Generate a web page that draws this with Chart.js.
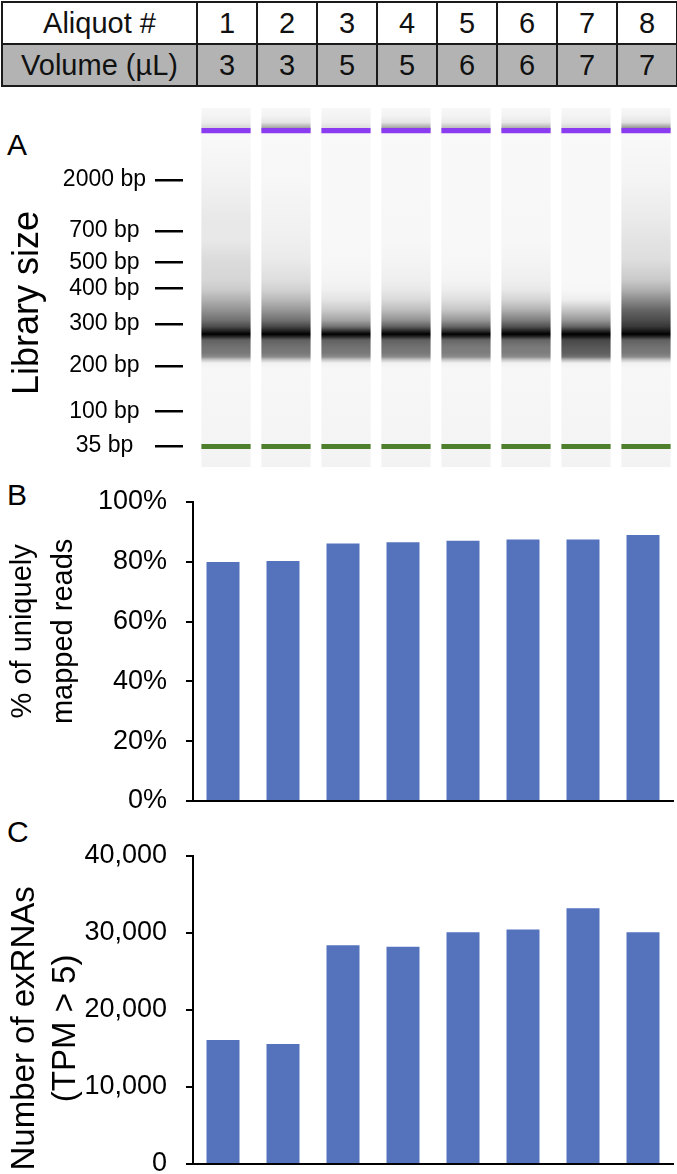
<!DOCTYPE html>
<html>
<head>
<meta charset="utf-8">
<script src="https://cdn.jsdelivr.net/npm/chart.js@4/dist/chart.umd.min.js"></script>
<style>
html,body{margin:0;padding:0;background:#fff;}
body{width:677px;height:1174px;position:relative;overflow:hidden;font-family:"Liberation Sans",Arial,Helvetica,sans-serif;color:#111;}
#tbl{position:absolute;left:1px;top:1px;width:675px;border-collapse:collapse;table-layout:fixed;}
#tbl td{border:2px solid #1a1a1a;text-align:center;vertical-align:middle;font-size:29px;padding:0;height:40px;line-height:40px;}
#tbl tr.vol td{background:#b3b3b3;}
.letter{position:absolute;left:7px;font-size:30px;line-height:30px;color:#000;}
canvas{position:absolute;left:0;}
</style>
</head>
<body>
<table id="tbl"><colgroup><col style="width:195px"><col span="8" style="width:60px"></colgroup></table>
<div class="letter" style="top:130px">A</div>
<div class="letter" style="top:480px">B</div>
<div class="letter" style="top:817px">C</div>
<canvas id="gel" width="677" height="405" style="top:95px"></canvas>
<canvas id="chartB" width="677" height="335" style="top:480px"></canvas>
<canvas id="chartC" width="677" height="359" style="top:815px"></canvas>
<script>
// ---------- data ----------
const aliquots = [1, 2, 3, 4, 5, 6, 7, 8];
const volumesUL = [3, 3, 5, 5, 6, 6, 7, 7];

// gel ladder (migration position, 0 = bottom of lane, 100 = top of lane)
const ladderLabels = ['35 bp', '100 bp', '200 bp', '300 bp', '400 bp', '500 bp', '700 bp', '2000 bp'];
const ladderPos = [5.9, 15.4, 28.1, 39.8, 49.7, 56.9, 65.8, 79.9];
const upperMarker = [93.0, 94.4];
const lowerMarker = [5.0, 6.4];

// gel intensity profile positions and per-lane darkness (0 = clear, 1 = black)
const gelPos = [0, 4.9, 27.5, 28.9, 29.8, 30.7, 31.7, 33.5, 35.4, 36.3, 37.0, 37.7, 39.1, 40.9, 43.7, 46.5, 49.3, 52.1, 57.7, 63.2, 68.8, 74.4, 80, 88, 92.9, 94.5, 96, 98, 100];
const lane1 = [0.04, 0.03, 0.02, 0.04, 0.2, 0.45, 0.52, 0.55, 0.62, 0.85, 1.0, 0.9, 0.7, 0.55, 0.42, 0.3, 0.2, 0.15, 0.13, 0.08, 0.08, 0.06, 0.04, 0.02, 0.01, 0.15, 0.06, 0.03, 0.02];
const lane2 = [0.04, 0.03, 0.02, 0.04, 0.2, 0.45, 0.52, 0.55, 0.62, 0.85, 1.0, 0.9, 0.72, 0.55, 0.4, 0.27, 0.17, 0.12, 0.07, 0.05, 0.04, 0.03, 0.02, 0.015, 0.01, 0.35, 0.09, 0.03, 0.02];
const lane3 = [0.04, 0.03, 0.02, 0.04, 0.2, 0.45, 0.52, 0.55, 0.62, 0.85, 1.0, 0.85, 0.55, 0.35, 0.2, 0.1, 0.05, 0.03, 0.02, 0.015, 0.015, 0.015, 0.015, 0.015, 0.01, 0.12, 0.05, 0.03, 0.02];
const lane4 = [0.04, 0.03, 0.02, 0.04, 0.2, 0.45, 0.52, 0.55, 0.62, 0.85, 1.0, 0.88, 0.62, 0.42, 0.25, 0.14, 0.08, 0.05, 0.03, 0.02, 0.02, 0.015, 0.015, 0.015, 0.01, 0.35, 0.09, 0.03, 0.02];
const lane5 = [0.04, 0.03, 0.02, 0.04, 0.2, 0.45, 0.5, 0.52, 0.6, 0.85, 1.0, 0.85, 0.6, 0.4, 0.22, 0.12, 0.06, 0.03, 0.02, 0.015, 0.015, 0.015, 0.015, 0.015, 0.01, 0.25, 0.07, 0.03, 0.02];
const lane6 = [0.04, 0.03, 0.02, 0.04, 0.2, 0.45, 0.5, 0.52, 0.6, 0.85, 1.0, 0.9, 0.68, 0.5, 0.3, 0.16, 0.08, 0.05, 0.03, 0.02, 0.02, 0.015, 0.015, 0.015, 0.01, 0.3, 0.08, 0.03, 0.02];
const lane7 = [0.04, 0.03, 0.02, 0.04, 0.25, 0.55, 0.62, 0.66, 0.72, 0.9, 1.0, 0.88, 0.6, 0.4, 0.22, 0.06, 0.02, 0.015, 0.015, 0.015, 0.015, 0.015, 0.015, 0.015, 0.01, 0.15, 0.06, 0.03, 0.02];
const lane8 = [0.04, 0.03, 0.02, 0.04, 0.2, 0.45, 0.52, 0.55, 0.62, 0.85, 1.0, 0.92, 0.78, 0.7, 0.6, 0.45, 0.3, 0.2, 0.12, 0.1, 0.07, 0.05, 0.03, 0.02, 0.01, 0.4, 0.1, 0.04, 0.02];

// panel B: % of uniquely mapped reads
const uniqueMappedPct = [79.9, 80.3, 86.1, 86.5, 87.0, 87.5, 87.5, 89.0];
const pctTicks = [0, 20, 40, 60, 80, 100];

// panel C: number of exRNAs (TPM > 5)
const exRNACount = [16100, 15600, 28400, 28200, 30100, 30450, 33200, 30100];
const countTicks = [0, 10000, 20000, 30000, 40000];

// ---------- table ----------
const tbl = document.getElementById('tbl');
const r1 = tbl.insertRow();
r1.insertCell().textContent = 'Aliquot #';
aliquots.forEach(a => { r1.insertCell().textContent = a; });
const r2 = tbl.insertRow();
r2.className = 'vol';
r2.insertCell().textContent = 'Volume (\u00B5L)';
volumesUL.forEach(v => { r2.insertCell().textContent = v; });

// ---------- charts ----------
const FAMILY = "'Liberation Sans', Arial, Helvetica, sans-serif";
Chart.defaults.font.family = FAMILY;
Chart.defaults.color = '#000';
const BAR_COLOR = 'rgb(85,114,189)';
const lanes = [lane1, lane2, lane3, lane4, lane5, lane6, lane7, lane8];

function laneGradient(ctx) {
  const chart = ctx.chart;
  if (!chart.chartArea || ctx.type !== 'data') return '#f7f7f7';
  const y = chart.scales.y;
  const g = chart.ctx.createLinearGradient(0, y.getPixelForValue(0), 0, y.getPixelForValue(100));
  const prof = lanes[ctx.dataIndex];
  gelPos.forEach((p, k) => {
    const c = Math.round(252 * (1 - prof[k]));
    g.addColorStop(p / 100, 'rgb(' + c + ',' + c + ',' + c + ')');
  });
  return g;
}
function noLabelOverhang(s) { s.paddingTop = 0; s.paddingBottom = 0; s.paddingLeft = 0; s.paddingRight = 0; }

const laneOpts = { grouped: false, barPercentage: 0.82, categoryPercentage: 1, borderWidth: 0 };

new Chart(document.getElementById('gel'), {
  type: 'bar',
  data: {
    datasets: [
      Object.assign({ label: 'Lanes', data: aliquots.map(a => ({ x: a, y: [0, 100] })), backgroundColor: laneGradient, order: 3 }, laneOpts),
      Object.assign({ label: 'Upper marker', data: aliquots.map(a => ({ x: a, y: upperMarker })), backgroundColor: '#8b3cf0', order: 1 }, laneOpts),
      Object.assign({ label: 'Lower marker', data: aliquots.map(a => ({ x: a, y: lowerMarker })), backgroundColor: '#4e7f2c', order: 1 }, laneOpts)
    ]
  },
  options: {
    responsive: false, animation: false,
    layout: { padding: { top: 13, bottom: 2, left: 0, right: 1 } },
    plugins: { legend: { display: false }, tooltip: { enabled: false } },
    scales: {
      x: {
        type: 'linear', min: 0.2833, max: 8.5, offset: false, display: false,
        afterBuildTicks: s => { s.ticks = aliquots.map(v => ({ value: v })); },
        afterFit: s => { s.height = 0; noLabelOverhang(s); }
      },
      y: {
        min: -8.64, max: 100,
        afterBuildTicks: s => { s.ticks = ladderPos.map(v => ({ value: v })); },
        afterFit: s => { s.width = 183; noLabelOverhang(s); },
        border: { display: false },
        grid: { drawOnChartArea: false, tickLength: 28, color: '#000', lineWidth: 2.5 },
        ticks: {
          autoSkip: false, font: { size: 23 }, color: '#000', crossAlign: 'center', padding: 9,
          callback: (v, i) => ladderLabels[i]
        },
        title: { display: true, text: 'Library size', font: { size: 36 }, color: '#000', padding: { top: 6, bottom: 0 } }
      }
    }
  }
});

function barChart(id, values, ticks, fmt, title, titleSize, titlePadTop, pad) {
  return new Chart(document.getElementById(id), {
    type: 'bar',
    data: {
      labels: aliquots.map(String),
      datasets: [{ data: values, backgroundColor: BAR_COLOR, barPercentage: 0.55, categoryPercentage: 1, borderWidth: 0 }]
    },
    options: {
      responsive: false, animation: false,
      layout: { padding: pad },
      plugins: { legend: { display: false }, tooltip: { enabled: false } },
      scales: {
        x: {
          grid: { display: false, drawTicks: false },
          ticks: { display: false },
          border: { display: true, color: '#000', width: 2 },
          afterFit: s => { s.height = 0; noLabelOverhang(s); }
        },
        y: {
          min: ticks[0], max: ticks[ticks.length - 1],
          afterBuildTicks: s => { s.ticks = ticks.map(v => ({ value: v })); },
          afterFit: s => { s.width = 193; noLabelOverhang(s); },
          border: { display: true, color: '#000', width: 2 },
          grid: { drawOnChartArea: false, tickLength: 7, color: '#000', lineWidth: 2 },
          ticks: { font: { size: 27 }, color: '#000', padding: 19, callback: fmt },
          title: { display: true, text: title, font: { size: titleSize, lineHeight: '41px' }, color: '#000', padding: { top: titlePadTop, bottom: 0 } }
        }
      }
    }
  });
}

// leading / trailing spaces shift the centred rotated titles along the axis as in the original
barChart('chartB', uniqueMappedPct, pctTicks, v => v + '%', ['     % of uniquely', '     mapped reads'], 29, 2,
  { top: 22, bottom: 14, left: 0, right: 4 });
barChart('chartC', exRNACount, countTicks, v => v.toLocaleString('en-US'), ['Number of exRNAs    ', '(TPM > 5)    '], 33, 4,
  { top: 41, bottom: 10, left: 0, right: 4 });
</script>
</body>
</html>
